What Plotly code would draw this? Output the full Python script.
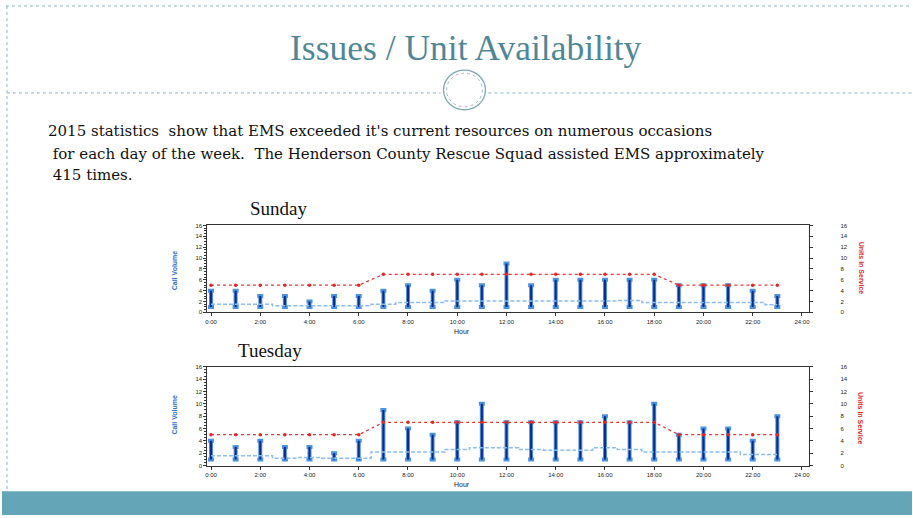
import plotly.graph_objects as go

W, H = 913, 518

# ---------------- data ----------------
hours = list(range(24))
x_tick_vals = [0, 2, 4, 6, 8, 10, 12, 14, 16, 18, 20, 22, 24]
x_tick_text = ["0:00", "2:00", "4:00", "6:00", "8:00", "10:00", "12:00",
               "14:00", "16:00", "18:00", "20:00", "22:00", "24:00"]
y_tick_vals = [0, 2, 4, 6, 8, 10, 12, 14, 16]

sun_low = [1, 1, 1, 1, 1, 1, 1, 1, 1, 1, 1, 1, 1, 1, 1, 1, 1, 1, 1, 1, 1, 1, 1, 1]
sun_high = [4, 4, 3, 3, 2, 3, 3, 4, 5, 4, 6, 5, 9, 5, 6, 6, 6, 6, 6, 5, 5, 5, 4, 3]
sun_mean = [1.5, 1.5, 1.5, 1.2, 1.2, 1.2, 1.2, 1.5, 1.8, 1.8, 2.1, 2.1, 2.1, 2.1,
            2.1, 2.1, 2.1, 2.2, 1.8, 1.8, 1.8, 1.8, 1.8, 1.4]
sun_units = [5, 5, 5, 5, 5, 5, 5, 7, 7, 7, 7, 7, 7, 7, 7, 7, 7, 7, 7, 5, 5, 5, 5, 5]

tue_low = [1, 1, 1, 1, 1, 1, 1, 1, 1, 1, 1, 1, 1, 1, 1, 1, 1, 1, 1, 1, 1, 1, 1, 1]
tue_high = [4, 3, 4, 3, 3, 2, 4, 9, 6, 5, 7, 10, 7, 7, 7, 7, 8, 7, 10, 5, 6, 6, 4, 8]
tue_mean = [1.6, 1.6, 1.6, 1.2, 1.3, 1.2, 1.2, 2.2, 2.2, 2.2, 2.6, 2.9, 2.9, 2.6,
            2.5, 2.5, 2.9, 2.6, 2.2, 2.2, 2.2, 2.2, 1.8, 1.8]
tue_units = [5, 5, 5, 5, 5, 5, 5, 7, 7, 7, 7, 7, 7, 7, 7, 7, 7, 7, 7, 5, 5, 5, 5, 5]

title_text = "Issues / Unit Availability"
body_lines = [
    "2015 statistics  show that EMS exceeded it's current resources on numerous occasions",
    " for each day of the week.  The Henderson County Rescue Squad assisted EMS approximately",
    " 415 times.",
]


# ---------------- helpers ----------------
def px(x):
    return x / W


def py(y):
    return 1 - y / H


SERIF = "Liberation Serif, DejaVu Serif, serif"
BODY_SERIF = "DejaVu Serif, Liberation Serif, serif"
SANS = "Liberation Sans, Arial, sans-serif"

fig = go.Figure()


def add_day(low, high, mean, units, xa, ya, ya2):
    span = [h - l for h, l in zip(high, low)]
    zeros = [0] * len(low)
    # light outer bar
    fig.add_trace(go.Scatter(
        x=hours, y=low, mode="markers", marker=dict(size=1, color="rgba(0,0,0,0)"),
        error_y=dict(type="data", symmetric=False, array=span, arrayminus=zeros,
                     color="#4a93e0", thickness=4, width=3),
        xaxis=xa, yaxis=ya, showlegend=False, hoverinfo="skip"))
    # dark inner bar
    fig.add_trace(go.Scatter(
        x=hours, y=low, mode="markers", marker=dict(size=1, color="rgba(0,0,0,0)"),
        error_y=dict(type="data", symmetric=False, array=span, arrayminus=zeros,
                     color="#0f2a85", thickness=2, width=0),
        xaxis=xa, yaxis=ya, showlegend=False, hoverinfo="skip"))
    # mean line
    fig.add_trace(go.Scatter(
        x=hours, y=mean, mode="lines",
        line=dict(color="#8cbdec", width=1.5, dash="4px,2px", shape="hvh"),
        xaxis=xa, yaxis=ya, showlegend=False))
    # units line
    fig.add_trace(go.Scatter(
        x=hours, y=units, mode="lines+markers",
        line=dict(color="#e23b3b", width=1.3, dash="dot"),
        marker=dict(color="#e02828", size=3.5),
        xaxis=xa, yaxis=ya2, showlegend=False))


add_day(sun_low, sun_high, sun_mean, sun_units, "x", "y", "y2")
add_day(tue_low, tue_high, tue_mean, tue_units, "x2", "y3", "y4")

ax_common = dict(showline=True, linecolor="#333", linewidth=1, mirror=True,
                 showgrid=False, zeroline=False, ticks="outside", ticklen=3,
                 tickcolor="#333", tickfont=dict(size=6, color="#222", family=SANS))

sun_dom = [py(313), py(225)]
tue_dom = [py(468), py(368)]
xdom = [px(206), px(810)]

right_ax = dict(range=[0, 16], tickvals=y_tick_vals, showgrid=False, zeroline=False,
                ticks="outside", ticklen=3, tickcolor="#333",
                tickfont=dict(size=6, color="#222", family=SANS), ticklabelstandoff=26)

fig.update_layout(
    width=W, height=H, margin=dict(l=0, r=0, t=0, b=0),
    paper_bgcolor="white", plot_bgcolor="white",
    xaxis=dict(domain=xdom, range=[-0.15, 24.3], tickvals=x_tick_vals, ticktext=x_tick_text,
               anchor="y", **ax_common),
    yaxis=dict(domain=sun_dom, range=[0, 16], tickvals=y_tick_vals, anchor="x",
               minor=dict(ticks="outside", ticklen=2, dtick=0.5, tickcolor="#333"), **ax_common),
    yaxis2=dict(overlaying="y", side="right", anchor="x", **right_ax),
    xaxis2=dict(domain=xdom, range=[-0.15, 24.3], tickvals=x_tick_vals, ticktext=x_tick_text,
                anchor="y3", **ax_common),
    yaxis3=dict(domain=tue_dom, range=[0, 16], tickvals=y_tick_vals, anchor="x2",
                minor=dict(ticks="outside", ticklen=2, dtick=0.5, tickcolor="#333"), **ax_common),
    yaxis4=dict(overlaying="y3", side="right", anchor="x2", **right_ax),
)


def ann(x, y, text, **kw):
    d = dict(xref="paper", yref="paper", x=px(x), y=py(y), text=text, showarrow=False,
             xanchor="center", yanchor="middle")
    d.update(kw)
    return d


annotations = [
    ann(466, 46, title_text,
        font=dict(family=SERIF, size=35.5, color="#4f8796")),
    ann(247, 208, "Sunday", xanchor="left",
        font=dict(family=SERIF, size=19, color="#111")),
    ann(235, 352, "Tuesday", xanchor="left",
        font=dict(family=SERIF, size=19, color="#111")),
    ann(462, 332, "Hour", font=dict(family=SANS, size=7, color="#222")),
    ann(462, 487, "Hour", font=dict(family=SANS, size=7, color="#222")),
    ann(173, 270, "<b>Call Volume</b>", textangle=-90,
        font=dict(family=SANS, size=7, color="#2f6fd0")),
    ann(173, 416, "<b>Call Volume</b>", textangle=-90,
        font=dict(family=SANS, size=7, color="#2f6fd0")),
    ann(862, 268, "<b>Units in Service</b>", textangle=90,
        font=dict(family=SANS, size=7, color="#e02828")),
    ann(862, 420, "<b>Units in Service</b>", textangle=90,
        font=dict(family=SANS, size=7, color="#e02828")),
]
for line, yy in zip(body_lines, [130, 153, 174]):
    annotations.append(ann(44, yy, line, xanchor="left",
                           font=dict(family=BODY_SERIF, size=15, color="#111")))
fig.update_layout(annotations=annotations)

shapes = [
    # top dotted border
    dict(type="line", xref="paper", yref="paper", x0=px(4), x1=1, y0=py(3), y1=py(3),
         line=dict(color="#8fb5c2", width=1, dash="dot")),
    # left dotted border
    dict(type="line", xref="paper", yref="paper", x0=px(5), x1=px(5), y0=py(3), y1=py(494),
         line=dict(color="#8fb5c2", width=1, dash="dot")),
    # divider line
    dict(type="line", xref="paper", yref="paper", x0=px(5), x1=px(440), y0=py(91), y1=py(91),
         line=dict(color="#8fb5c2", width=1, dash="dot")),
    dict(type="line", xref="paper", yref="paper", x0=px(488), x1=1, y0=py(91), y1=py(91),
         line=dict(color="#8fb5c2", width=1, dash="dot")),
    # ornament circles
    dict(type="circle", xref="paper", yref="paper", x0=px(443), x1=px(485), y0=py(108), y1=py(68),
         line=dict(color="#7ea8b6", width=1.3)),
    dict(type="circle", xref="paper", yref="paper", x0=px(446), x1=px(482), y0=py(105), y1=py(71),
         line=dict(color="#9dbdc8", width=1, dash="dot")),
    # bottom band
    dict(type="rect", xref="paper", yref="paper", x0=0, x1=1, y0=0, y1=py(494),
         line=dict(width=0), fillcolor="#64a6b8", layer="below"),
]
fig.update_layout(shapes=shapes)

fig.write_html("out.html", config={"displayModeBar": False},
               post_script="document.body.style.margin='0';document.body.style.overflow='hidden';")
